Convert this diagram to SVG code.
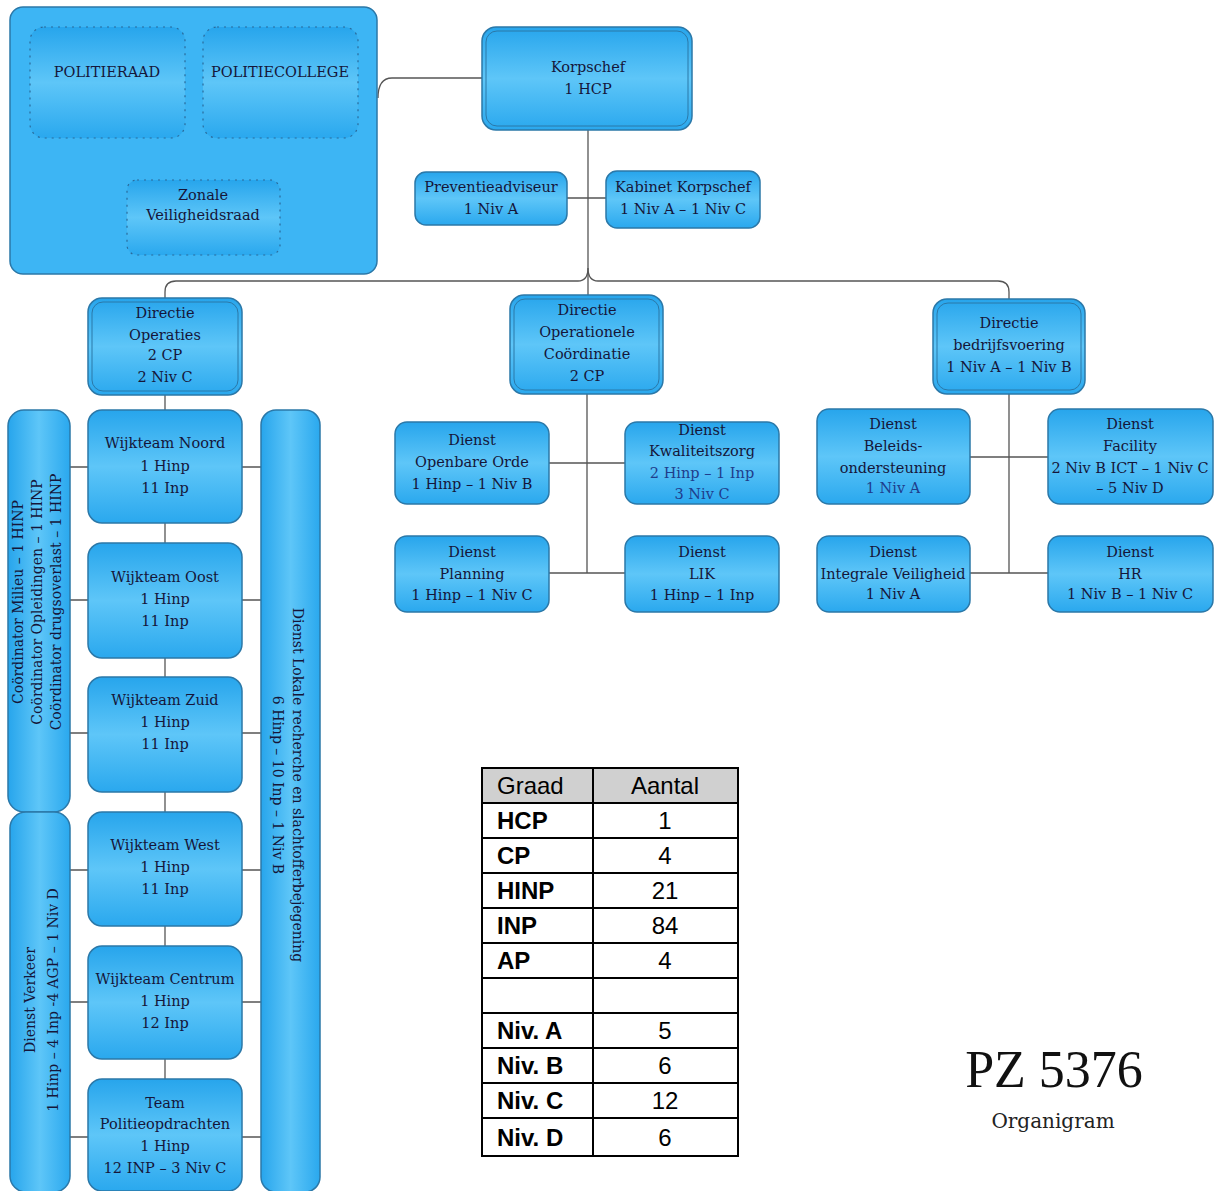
<svg xmlns="http://www.w3.org/2000/svg" width="1215" height="1191" viewBox="0 0 1215 1191">
<defs>
<linearGradient id="g" x1="0" y1="0" x2="0" y2="1">
<stop offset="0" stop-color="#27a5ec"/>
<stop offset="0.5" stop-color="#5ec6f8"/>
<stop offset="1" stop-color="#2aa8ee"/>
</linearGradient>
<linearGradient id="gh" x1="0" y1="0" x2="1" y2="0">
<stop offset="0" stop-color="#27a5ec"/>
<stop offset="0.5" stop-color="#5ec6f8"/>
<stop offset="1" stop-color="#2aa8ee"/>
</linearGradient>
<style>
.box{fill:url(#g);stroke:#2b78a8;stroke-width:1.5}
.vbox{fill:url(#gh);stroke:#2b78a8;stroke-width:1.5}
.inner{fill:none;stroke:#2b78a8;stroke-width:1}
.big{fill:#3db5f4;stroke:#2b78a8;stroke-width:1.5}
.dot{fill:url(#g);stroke:#2a6a9a;stroke-width:1.2;stroke-dasharray:2 5}
.t{font-family:"DejaVu Serif",serif;font-size:14.5px;fill:#15163a;text-anchor:middle}
.tb{fill:#1f3d8c}
.vt{font-family:"DejaVu Serif",serif;font-size:14px;fill:#15163a;text-anchor:middle}
.conn{fill:none;stroke:#555;stroke-width:1.3}
.grid{fill:none;stroke:#000;stroke-width:2}
.th{font-family:"Liberation Sans",Arial,sans-serif;font-size:24px;fill:#000}
.tl{font-family:"Liberation Sans",Arial,sans-serif;font-size:24px;font-weight:bold;fill:#000}
.tn{font-family:"Liberation Sans",Arial,sans-serif;font-size:24px;fill:#000;text-anchor:middle}
</style>
</defs>
<rect width="1215" height="1191" fill="#ffffff"/>

<g id="connectors">
<path class="conn" d="M378 98 Q378 78 392 78 H482"/>
<path class="conn" d="M588 130 V295"/>
<path class="conn" d="M567 198 H606"/>
<path class="conn" d="M165 298 V292 Q165 281 176 281 H578 Q588 281 588 268 Q588 281 598 281 H998 Q1009 281 1009 292 V299"/>
<path class="conn" d="M587 394 V573 M549 463 H625 M549 573 H625"/>
<path class="conn" d="M1009 394 V573 M970 457 H1048 M970 573 H1048"/>
<path class="conn" d="M165 395 V1079"/>
<path class="conn" d="M70 467 H88 M242 467 H261 M70 600 H88 M242 600 H261 M70 733 H88 M242 733 H261 M70 870 H88 M242 870 H261 M70 1002 H88 M242 1002 H261 M70 1137 H88 M242 1137 H261"/>
</g>

<g id="politie-groep">
<rect class="big" x="10" y="7" width="367" height="267" rx="13"/>
</g>
<g id="politieraad">
<rect class="dot" x="30" y="27" width="155" height="111" rx="14"/>
<text class="t" x="107" y="77">POLITIERAAD</text>
</g>
<g id="politiecollege">
<rect class="dot" x="203" y="27" width="155" height="111" rx="14"/>
<text class="t" x="280" y="77">POLITIECOLLEGE</text>
</g>
<g id="zonale-veiligheidsraad">
<rect class="dot" x="127" y="180" width="153" height="75" rx="10"/>
<text class="t" x="203" y="200">Zonale</text>
<text class="t" x="203" y="220">Veiligheidsraad</text>
</g>

<g id="korpschef">
<rect class="box" x="482" y="27" width="210" height="103" rx="14"/>
<rect class="inner" x="486" y="31" width="202" height="95" rx="11"/>
<text class="t" x="588" y="72">Korpschef</text>
<text class="t" x="588" y="94">1 HCP</text>
</g>

<g id="preventieadviseur">
<rect class="box" x="415" y="172" width="152" height="53" rx="11"/>
<text class="t" x="491" y="192">Preventieadviseur</text>
<text class="t" x="491" y="214">1 Niv A</text>
</g>

<g id="kabinet-korpschef">
<rect class="box" x="606" y="171" width="154" height="57" rx="11"/>
<text class="t" x="683" y="192">Kabinet Korpschef</text>
<text class="t" x="683" y="214">1 Niv A – 1 Niv C</text>
</g>

<g id="directie-operaties">
<rect class="box" x="88" y="298" width="154" height="97" rx="14"/>
<rect class="inner" x="92" y="302" width="146" height="89" rx="11"/>
<text class="t" x="165" y="318">Directie</text>
<text class="t" x="165" y="340">Operaties</text>
<text class="t" x="165" y="360">2 CP</text>
<text class="t" x="165" y="382">2 Niv C</text>
</g>

<g id="directie-operationele-coordinatie">
<rect class="box" x="510" y="295" width="153" height="99" rx="14"/>
<rect class="inner" x="514" y="299" width="145" height="91" rx="11"/>
<text class="t" x="587" y="315">Directie</text>
<text class="t" x="587" y="337">Operationele</text>
<text class="t" x="587" y="359">Coördinatie</text>
<text class="t" x="587" y="381">2 CP</text>
</g>

<g id="directie-bedrijfsvoering">
<rect class="box" x="933" y="299" width="152" height="95" rx="14"/>
<rect class="inner" x="937" y="303" width="144" height="87" rx="11"/>
<text class="t" x="1009" y="328">Directie</text>
<text class="t" x="1009" y="350">bedrijfsvoering</text>
<text class="t" x="1009" y="372">1 Niv A – 1 Niv B</text>
</g>

<g id="dienst-openbare-orde">
<rect class="box" x="395" y="422" width="154" height="82" rx="12"/>
<text class="t" x="472" y="445">Dienst</text>
<text class="t" x="472" y="467">Openbare Orde</text>
<text class="t" x="472" y="489">1 Hinp – 1 Niv B</text>
</g>

<g id="dienst-kwaliteitszorg">
<rect class="box" x="625" y="422" width="154" height="82" rx="12"/>
<text class="t" x="702" y="435">Dienst</text>
<text class="t" x="702" y="456">Kwaliteitszorg</text>
<text class="t tb" x="702" y="478">2 Hinp – 1 Inp</text>
<text class="t tb" x="702" y="499">3 Niv C</text>
</g>

<g id="dienst-planning">
<rect class="box" x="395" y="536" width="154" height="76" rx="12"/>
<text class="t" x="472" y="557">Dienst</text>
<text class="t" x="472" y="579">Planning</text>
<text class="t" x="472" y="600">1 Hinp – 1 Niv C</text>
</g>

<g id="dienst-lik">
<rect class="box" x="625" y="536" width="154" height="76" rx="12"/>
<text class="t" x="702" y="557">Dienst</text>
<text class="t" x="702" y="579">LIK</text>
<text class="t" x="702" y="600">1 Hinp – 1 Inp</text>
</g>

<g id="dienst-beleidsondersteuning">
<rect class="box" x="817" y="409" width="153" height="95" rx="12"/>
<text class="t" x="893" y="429">Dienst</text>
<text class="t" x="893" y="451">Beleids-</text>
<text class="t" x="893" y="473">ondersteuning</text>
<text class="t tb" x="893" y="493">1 Niv A</text>
</g>

<g id="dienst-facility">
<rect class="box" x="1048" y="409" width="165" height="95" rx="12"/>
<text class="t" x="1130" y="429">Dienst</text>
<text class="t" x="1130" y="451">Facility</text>
<text class="t" x="1130" y="473">2 Niv B ICT – 1 Niv C</text>
<text class="t" x="1130" y="493">– 5 Niv D</text>
</g>

<g id="dienst-integrale-veiligheid">
<rect class="box" x="817" y="536" width="153" height="76" rx="12"/>
<text class="t" x="893" y="557">Dienst</text>
<text class="t" x="893" y="579">Integrale Veiligheid</text>
<text class="t" x="893" y="599">1 Niv A</text>
</g>

<g id="dienst-hr">
<rect class="box" x="1048" y="536" width="165" height="76" rx="12"/>
<text class="t" x="1130" y="557">Dienst</text>
<text class="t" x="1130" y="579">HR</text>
<text class="t" x="1130" y="599">1 Niv B – 1 Niv C</text>
</g>

<g id="wijkteam-noord">
<rect class="box" x="88" y="410" width="154" height="113" rx="14"/>
<text class="t" x="165" y="448">Wijkteam Noord</text>
<text class="t" x="165" y="471">1 Hinp</text>
<text class="t" x="165" y="493">11 Inp</text>
</g>

<g id="wijkteam-oost">
<rect class="box" x="88" y="543" width="154" height="115" rx="14"/>
<text class="t" x="165" y="582">Wijkteam Oost</text>
<text class="t" x="165" y="604">1 Hinp</text>
<text class="t" x="165" y="626">11 Inp</text>
</g>

<g id="wijkteam-zuid">
<rect class="box" x="88" y="677" width="154" height="115" rx="14"/>
<text class="t" x="165" y="705">Wijkteam Zuid</text>
<text class="t" x="165" y="727">1 Hinp</text>
<text class="t" x="165" y="749">11 Inp</text>
</g>

<g id="wijkteam-west">
<rect class="box" x="88" y="812" width="154" height="114" rx="14"/>
<text class="t" x="165" y="850">Wijkteam West</text>
<text class="t" x="165" y="872">1 Hinp</text>
<text class="t" x="165" y="894">11 Inp</text>
</g>

<g id="wijkteam-centrum">
<rect class="box" x="88" y="946" width="154" height="113" rx="14"/>
<text class="t" x="165" y="984">Wijkteam Centrum</text>
<text class="t" x="165" y="1006">1 Hinp</text>
<text class="t" x="165" y="1028">12 Inp</text>
</g>

<g id="team-politieopdrachten">
<rect class="box" x="88" y="1079" width="154" height="112" rx="14"/>
<text class="t" x="165" y="1108">Team</text>
<text class="t" x="165" y="1129">Politieopdrachten</text>
<text class="t" x="165" y="1151">1 Hinp</text>
<text class="t" x="165" y="1173">12 INP – 3 Niv C</text>
</g>

<g id="coordinatoren">
<rect class="vbox" x="8" y="410" width="62" height="402" rx="16"/>
<text class="vt" transform="translate(23,602) rotate(-90)">Coördinator Milieu – 1 HINP</text>
<text class="vt" transform="translate(42,602) rotate(-90)">Coördinator Opleidingen – 1 HINP</text>
<text class="vt" transform="translate(61,602) rotate(-90)">Coördinator drugsoverlast – 1 HINP</text>
</g>

<g id="dienst-verkeer">
<rect class="vbox" x="10" y="812" width="60" height="380" rx="16"/>
<text class="vt" transform="translate(35,1000) rotate(-90)">Dienst Verkeer</text>
<text class="vt" transform="translate(58,1000) rotate(-90)">1 Hinp – 4 Inp -4 AGP – 1 Niv D</text>
</g>

<g id="dienst-lokale-recherche">
<rect class="vbox" x="261" y="410" width="59" height="782" rx="15"/>
<text class="vt" transform="translate(293,785) rotate(90)">Dienst Lokale recherche en slachtofferbejegening</text>
<text class="vt" transform="translate(273,785) rotate(90)">6 Hinp – 10 Inp – 1 Niv B</text>
</g>

<g id="tabel">
<rect x="482" y="768" width="256" height="35" fill="#d0d0d0"/>
<rect class="grid" x="482" y="768" width="256" height="388"/>
<path class="grid" d="M593 768 V1156 M482 803 H738 M482 838 H738 M482 873 H738 M482 908 H738 M482 943 H738 M482 978 H738 M482 1013 H738 M482 1048 H738 M482 1083 H738 M482 1118 H738"/>
<text class="th" x="497" y="794">Graad</text>
<text class="tn" x="665" y="794">Aantal</text>
<text class="tl" x="497" y="829">HCP</text><text class="tn" x="665" y="829">1</text>
<text class="tl" x="497" y="864">CP</text><text class="tn" x="665" y="864">4</text>
<text class="tl" x="497" y="899">HINP</text><text class="tn" x="665" y="899">21</text>
<text class="tl" x="497" y="934">INP</text><text class="tn" x="665" y="934">84</text>
<text class="tl" x="497" y="969">AP</text><text class="tn" x="665" y="969">4</text>
<text class="tl" x="497" y="1039">Niv. A</text><text class="tn" x="665" y="1039">5</text>
<text class="tl" x="497" y="1074">Niv. B</text><text class="tn" x="665" y="1074">6</text>
<text class="tl" x="497" y="1109">Niv. C</text><text class="tn" x="665" y="1109">12</text>
<text class="tl" x="497" y="1146">Niv. D</text><text class="tn" x="665" y="1146">6</text>
</g>

<g id="titel">
<text x="1054" y="1087" font-family="Liberation Serif, serif" font-size="52" fill="#111" text-anchor="middle">PZ 5376</text>
<text x="1053" y="1128" font-family="DejaVu Serif, serif" font-size="20" fill="#222" text-anchor="middle">Organigram</text>
</g>
</svg>
